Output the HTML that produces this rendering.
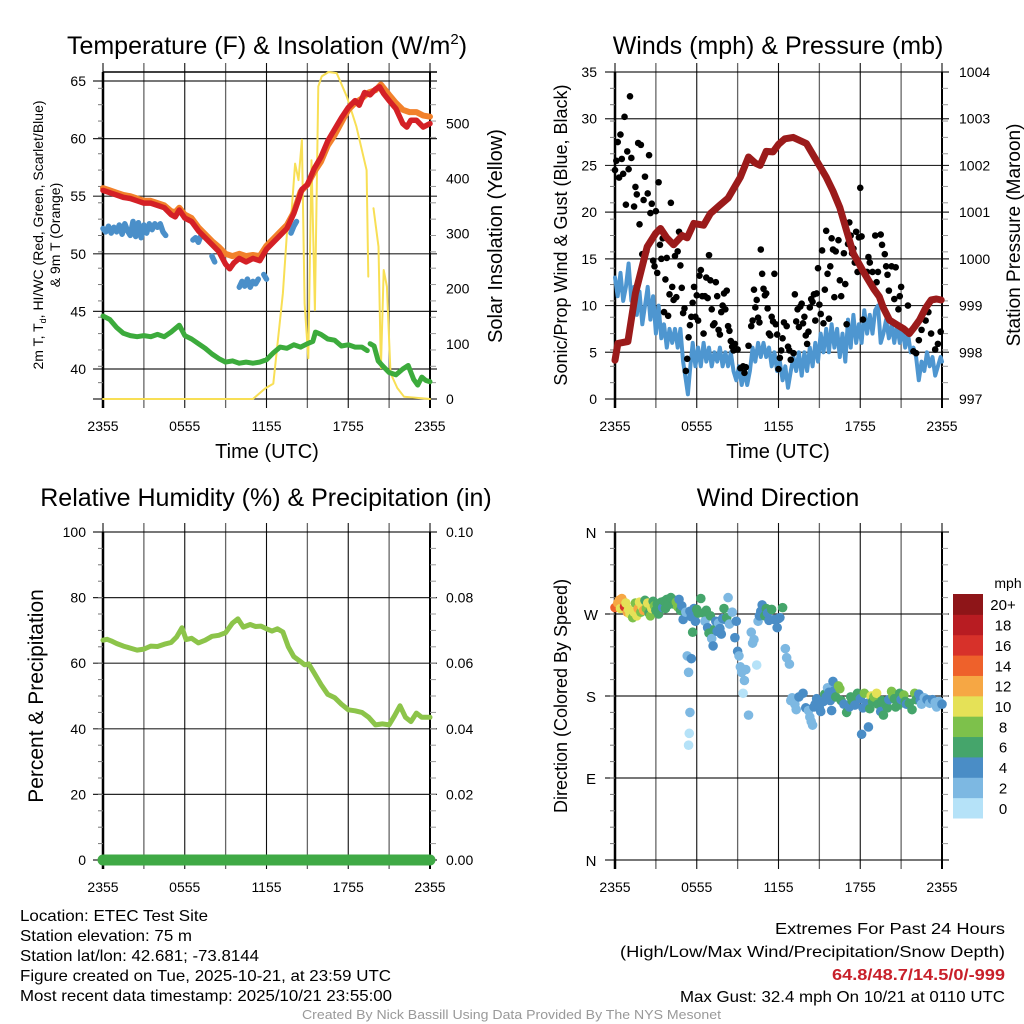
<!DOCTYPE html>
<html><head><meta charset="utf-8"><style>
html,body{margin:0;padding:0;background:#fff;}
svg{display:block;font-family:"Liberation Sans",Arial,sans-serif;}
.nar{font-family:"Liberation Sans Narrow","Liberation Sans",sans-serif;}
</style></head><body>
<svg id="root" width="1024" height="1024" viewBox="0 0 1024 1024">
<rect width="1024" height="1024" fill="#fff"/>
<g id="layer"></g>
<g class="nar" font-size="16" fill="#000">
<text x="20" y="921" textLength="188" lengthAdjust="spacingAndGlyphs">Location: ETEC Test Site</text>
<text x="20" y="941" textLength="172" lengthAdjust="spacingAndGlyphs">Station elevation: 75 m</text>
<text x="20" y="961" textLength="239" lengthAdjust="spacingAndGlyphs">Station lat/lon: 42.681; -73.8144</text>
<text x="20" y="981" textLength="371" lengthAdjust="spacingAndGlyphs">Figure created on Tue, 2025-10-21, at 23:59 UTC</text>
<text x="20" y="1001" textLength="372" lengthAdjust="spacingAndGlyphs">Most recent data timestamp: 2025/10/21 23:55:00</text>
<text x="775" y="934" textLength="230" lengthAdjust="spacingAndGlyphs">Extremes For Past 24 Hours</text>
<text x="620" y="957" textLength="385" lengthAdjust="spacingAndGlyphs">(High/Low/Max Wind/Precipitation/Snow Depth)</text>
<text x="832" y="980" textLength="173" lengthAdjust="spacingAndGlyphs" fill="#c8202a" font-weight="bold">64.8/48.7/14.5/0/-999</text>
<text x="680" y="1002" textLength="325" lengthAdjust="spacingAndGlyphs">Max Gust: 32.4 mph On 10/21 at 0110 UTC</text>
<text x="302" y="1019" textLength="419" lengthAdjust="spacingAndGlyphs" font-size="13" fill="#999">Created By Nick Bassill Using Data Provided By The NYS Mesonet</text>
</g>
</svg>
<script>
// ---------- DATA ----------
const xTickLabels = ["2355","0555","1155","1755","2355"];
const tempTicks = [40,45,50,55,60,65];
const insolTicks = [0,100,200,300,400,500];
const windTicks = [0,5,10,15,20,25,30,35];
const presTicks = [997,998,999,1000,1001,1002,1003,1004];
const rhTicks = [0,20,40,60,80,100];
const precipTicks = ["0.00","0.02","0.04","0.06","0.08","0.10"];
const dirLabels = ["N","E","S","W","N"];
const speedBinLabels = ["0","2","4","6","8","10","12","14","16","18","20+"];
const speedBinColors = ["#b5e2f8","#7db8e2","#4a8dc6","#45a56b","#7dc14b","#e5e157","#f6a744","#ee612b","#d7312a","#b81c22","#8e1518"];

const tempRed = [[0,55.5],[0.5,55.3],[1,55.1],[1.5,54.9],[2,54.8],[2.5,54.6],[3,54.4],[3.5,54.4],[4,54.2],[4.5,54.0],[5,53.4],[5.3,53.2],[5.6,53.8],[6,53.1],[6.5,52.8],[7,52.0],[7.5,51.4],[8,50.8],[8.5,50.2],[9,49.1],[9.3,48.7],[9.6,49.2],[10,49.6],[10.5,49.3],[11,49.6],[11.5,49.4],[12,50.4],[12.5,51],[13,51.6],[13.5,52.2],[14,53.5],[14.3,54.5],[14.6,55.6],[15,56],[15.5,57.4],[16,58.4],[16.5,59.8],[17,60.8],[17.5,61.8],[18,62.7],[18.5,63.3],[18.8,62.9],[19.2,64.0],[19.6,63.8],[20,64.3],[20.3,64.5],[20.6,63.9],[21,63.3],[21.5,62.6],[22,61.3],[22.3,61.0],[22.6,61.6],[23,61.6],[23.5,61.0],[24,61.3]];
const temp9m = [[0,55.7],[0.5,55.5],[1,55.3],[1.5,55.1],[2,55.0],[2.5,54.8],[3,54.6],[3.5,54.6],[4,54.4],[4.5,54.2],[5,53.7],[5.3,53.6],[5.6,54.0],[6,53.4],[6.5,53.1],[7,52.3],[7.5,51.7],[8,51.1],[8.5,50.6],[9,50.0],[9.5,49.8],[10,50.0],[10.5,49.8],[11,49.9],[11.5,49.8],[12,50.7],[12.5,51.3],[13,51.9],[13.5,52.5],[14,53.6],[14.5,55.4],[15,56],[15.5,57.1],[16,58],[16.5,59.4],[17,60.3],[17.5,61.4],[18,62.5],[18.5,63.1],[19,63.5],[19.5,64.0],[20,64.2],[20.4,64.7],[21,63.8],[21.5,63.1],[22,62.5],[22.5,62.3],[23,62.3],[23.5,62],[24,61.9]];
const heatIdx = [[0,52.2],[0.2,51.9],[0.4,52.4],[0.6,51.8],[0.8,52.3],[1,51.9],[1.2,52.5],[1.4,51.7],[1.6,52.6],[1.8,52.0],[2,51.6],[2.2,52.8],[2.4,51.5],[2.6,52.7],[2.8,51.4],[3,52.5],[3.2,51.8],[3.4,52.6],[3.6,52.1],[3.8,52.6],[4,52.3],[4.2,52.6],[4.4,51.9],[4.6,51.6],null,[6.6,51.2],[6.8,51.4],[7,51.0],[7.2,51.6],null,[8,49.8],[8.2,49.3],null,[10,47.1],[10.2,47.6],[10.4,47.2],[10.6,47.8],[10.8,47.1],[11,47.6],[11.2,47.4],[11.4,47.8],null,[11.8,48.2],[12,47.8],null,[13.8,51.8],[14,52.4],[14.2,52.8]];
const dewPt = [[0,44.6],[0.5,44.3],[1,43.6],[1.5,43.1],[2,42.9],[2.5,42.8],[3,42.9],[3.5,42.8],[4,43.0],[4.5,42.8],[5,43.2],[5.6,43.8],[6,42.9],[6.5,42.6],[7,42.2],[7.5,41.8],[8,41.3],[8.5,40.9],[9,40.6],[9.5,40.7],[10,40.5],[10.5,40.6],[11,40.5],[11.5,40.6],[12,40.8],[12.5,41.4],[13,41.9],[13.5,41.8],[14,42.1],[14.5,41.9],[15,42.2],[15.4,42.4],[15.6,43.2],[16,43.0],[16.5,42.6],[17,42.5],[17.5,42.0],[18,42.1],[18.5,41.9],[19,41.9],[19.4,41.6],null,[19.6,42.2],[19.9,42.0],[20.2,40.7],[20.5,40.3],[21,39.7],[21.5,39.5],[22,40.0],[22.4,40.3],[22.8,39.1],[23.1,38.6],[23.4,39.3],[23.7,39.0],[24,38.9]];
const insolation = [[0,0],[11.0,0],[11.9,19],[12.5,28],[13.2,192],[13.5,300],[13.85,343],[14.1,427],[14.35,397],[14.6,470],[14.8,173],[15.07,74],[15.3,433],[15.55,161],[15.8,567],[16.05,585],[16.55,593],[17.15,591],[17.9,548],[18.6,494],[19.35,415],[19.47,222],null,[19.85,346],[20.22,276],[20.4,56],[20.6,234],[20.84,204],[21.1,47],[21.6,20],[22.1,4],[24,0]];

const pressure = [[0,997.83],[0.21,998.19],[0.95,998.23],[1.5,999.26],[2.36,1000.26],[2.97,1000.54],[3.34,1000.65],[3.8,1000.45],[4.3,1000.3],[4.93,1000.5],[5.3,1000.45],[5.78,1000.76],[6.5,1000.72],[7.0,1000.97],[7.7,1001.15],[8.3,1001.3],[9.2,1001.75],[9.8,1002.18],[10.3,1002.05],[10.65,1002.0],[11.1,1002.3],[11.6,1002.29],[12.0,1002.45],[12.47,1002.57],[13.08,1002.6],[14.05,1002.47],[14.8,1002.1],[15.5,1001.75],[16.0,1001.45],[16.5,1001.1],[17.0,1000.6],[17.5,1000.11],[18.3,999.69],[19.0,999.35],[19.4,999.19],[19.7,998.95],[20.15,998.69],[20.75,998.58],[21.2,998.5],[21.6,998.4],[22.0,998.55],[22.35,998.69],[22.8,998.95],[23.2,999.12],[23.6,999.14],[23.94,999.12]];
const windSpd = [[0,13],[0.2,11],[0.4,13.5],[0.6,10.5],[0.8,12],[1.0,14.5],[1.2,10.5],[1.4,12],[1.6,9],[1.8,11.5],[2.0,8],[2.2,10],[2.4,12],[2.6,8.5],[2.8,11],[3.0,7],[3.2,10],[3.4,6.5],[3.6,8],[3.8,5.5],[4.0,7.5],[4.2,6],[4.4,7.5],[4.6,5.5],[4.8,7.5],[5.0,4],[5.2,2],[5.35,0.5],[5.5,3],[5.7,6],[5.9,3.5],[6.1,5.5],[6.3,3.5],[6.5,6],[6.7,4],[6.9,5.5],[7.1,3.5],[7.3,5],[7.5,4],[7.7,5.5],[7.9,3.5],[8.1,5],[8.3,3.5],[8.5,5],[8.7,3],[8.9,2],[9.1,3.5],[9.3,1.5],[9.5,3],[9.7,1.5],[9.9,3],[10.1,5.5],[10.3,4],[10.5,6],[10.7,4.5],[10.9,6],[11.1,4.5],[11.3,5.5],[11.5,3.5],[11.7,5],[11.9,3],[12.1,4],[12.3,2],[12.5,3.5],[12.7,1.2],[12.9,3],[13.1,4.5],[13.3,3],[13.5,5],[13.7,2.5],[13.9,5],[14.1,3],[14.3,5.5],[14.5,3.5],[14.7,6],[14.9,4],[15.1,7],[15.3,5],[15.5,7.5],[15.7,5],[15.9,8],[16.1,5.5],[16.3,7.5],[16.5,4.5],[16.7,7],[16.9,4],[17.1,8.5],[17.3,5.5],[17.5,9],[17.7,6],[17.9,8],[18.1,6],[18.3,9.5],[18.5,7],[18.7,9],[18.9,7],[19.1,9.5],[19.3,10],[19.5,6],[19.7,7],[19.9,8.5],[20.1,6.5],[20.3,8],[20.5,6],[20.7,8],[20.9,6],[21.1,7.5],[21.3,5.5],[21.5,7],[21.7,5],[21.9,5.5],[22.1,4.5],[22.3,2],[22.5,4],[22.7,3],[22.9,5],[23.1,3.5],[23.3,4.5],[23.5,2.5],[23.7,3.5],[23.9,4.5],[24,4]];
const gusts = [[0.0,24.5],[0.1,25.5],[0.2,27.5],[0.3,23.7],[0.4,28.3],[0.5,25.7],[0.6,24.1],[0.7,30.2],[0.8,20.8],[0.9,26.5],[1.0,24.6],[1.1,32.4],[1.2,25.8],[1.4,20.6],[1.5,22.7],[1.6,21.9],[1.7,27.4],[1.8,18.7],[1.9,27.2],[2.0,15.5],[2.1,21.3],[2.2,23.8],[2.3,15.8],[2.4,22],[2.5,26.1],[2.6,19.9],[2.7,20.9],[2.8,14.8],[2.9,14.2],[3.0,20.1],[3.1,13.5],[3.2,23.2],[3.3,16.5],[3.4,15],[3.5,17.2],[3.6,9.3],[3.7,12.8],[3.8,15.1],[3.9,8.9],[4.0,11.2],[4.1,21],[4.2,12],[4.3,10.6],[4.4,15.3],[4.5,10.9],[4.6,15.8],[4.7,17.9],[4.8,14.3],[4.9,11.9],[5.0,9.2],[5.1,9.7],[5.2,3],[5.3,4.3],[5.4,6.6],[5.5,7.9],[5.6,8.8],[5.7,10.3],[5.8,12],[5.9,8.8],[6.0,11.1],[6.1,8.4],[6.2,13.2],[6.3,13.8],[6.4,11],[6.5,7],[6.6,11],[6.7,13],[6.8,10.8],[6.9,15.4],[7.0,12.7],[7.1,9.6],[7.2,7.9],[7.3,8.1],[7.4,12.5],[7.5,11],[7.6,7.4],[7.7,6.9],[7.8,9.3],[7.9,10],[8.0,11.3],[8.1,9.6],[8.2,11.6],[8.3,7.8],[8.4,7.3],[8.5,6.2],[8.6,5.6],[8.7,5.2],[8.8,5.9],[9.0,5.3],[9.2,3.3],[9.4,3.5],[9.5,2.8],[9.6,3.4],[9.8,5.7],[10.0,7.8],[10.1,8.4],[10.2,11.7],[10.3,9.8],[10.4,10.6],[10.5,8.7],[10.6,8.2],[10.7,16],[10.8,13.4],[10.9,11.8],[11.0,11.1],[11.1,11.3],[11.2,9.7],[11.3,7],[11.4,6.8],[11.5,8.8],[11.6,8.3],[11.7,13.4],[11.8,8],[11.9,6.9],[12.0,3.2],[12.1,4.4],[12.2,5.2],[12.3,6.5],[12.4,8.2],[12.6,7.8],[12.7,5.6],[12.8,5.2],[12.9,4.2],[13.1,4.9],[13.2,11.2],[13.3,8.3],[13.4,9.6],[13.5,7.7],[13.6,9.9],[13.7,10.2],[13.8,8.1],[13.9,8.8],[14.0,6.8],[14.1,5.9],[14.2,7.2],[14.3,9.8],[14.4,10.7],[14.5,10.4],[14.6,11.2],[14.7,8.4],[14.8,11.3],[14.9,14],[15.0,10.1],[15.1,9.1],[15.2,15.9],[15.3,8.1],[15.4,11.7],[15.5,18],[15.6,13.4],[15.7,8.6],[15.8,14.2],[15.9,17.2],[16.0,16],[16.1,10.9],[16.2,15.8],[16.4,17],[16.5,12.7],[16.6,11],[16.8,15.6],[16.9,12.3],[17.0,8],[17.1,16.6],[17.2,18.9],[17.3,17.5],[17.4,15.6],[17.5,16.1],[17.6,14.6],[17.7,17.9],[17.8,13.6],[17.9,17.3],[18.0,22.6],[18.1,17.4],[18.2,8.5],[18.5,13.6],[18.6,15.2],[18.7,14.6],[18.9,13.6],[19.1,17.5],[19.2,12.5],[19.3,13.6],[19.5,17.6],[19.6,16.5],[19.8,15.5],[19.9,14.2],[20.0,13.3],[20.1,11.6],[20.3,14.2],[20.5,10.7],[20.6,14.1],[20.8,9.6],[20.9,11],[21.0,12],[21.5,10],[21.9,5.1],[22.1,4.9],[22.3,6.3],[22.5,7.4],[22.8,8.4],[23.0,9.3],[23.2,7],[23.5,5.3],[23.7,5.9],[23.9,7.2]];

const rhData = [[0,67],[0.3,67.3],[0.6,66.8],[1,66],[1.5,65.2],[2,64.6],[2.5,64],[3,64.3],[3.5,65.2],[4,65.1],[4.5,65.8],[5,66.3],[5.4,68],[5.8,70.8],[6.1,67.2],[6.5,67.6],[7,66.2],[7.5,67],[8,68.2],[8.5,68.5],[9,69.3],[9.5,72.2],[9.9,73.5],[10.3,71],[10.8,71.8],[11.2,71.2],[11.6,71.3],[12,70.5],[12.4,69.8],[12.8,70.5],[13.2,69.5],[13.6,65],[14,62],[14.5,60.5],[14.8,59.5],[15.1,59.8],[15.5,57],[16,53.5],[16.5,50.5],[17,49.5],[17.5,47.5],[18,45.8],[18.5,45.5],[19,45],[19.5,43.5],[20,41.2],[20.5,41.5],[21,41.2],[21.4,44],[21.8,47],[22.2,43.5],[22.6,42.2],[23,44.8],[23.4,43.5],[24,43.5]];
const precip = [[0,0],[24,0]];

const windDir = [[0,277,14],[0.2,282,12],[0.3,285,12],[0.4,276,10],[0.5,287,12],[0.6,284,12],[0.7,278,16],[0.8,282,10],[0.9,272,12],[1.0,275,10],[1.1,270,10],[1.3,266,8],[1.4,272,10],[1.5,282,8],[1.6,268,10],[1.7,276,12],[1.8,283,10],[1.9,272,8],[2.0,278,10],[2.1,274,12],[2.2,285,6],[2.3,276,8],[2.4,282,10],[2.5,271,6],[2.6,268,8],[2.7,276,10],[2.8,284,6],[2.9,279,8],[3.0,274,6],[3.1,281,6],[3.2,270,6],[3.4,283,6],[3.5,277,4],[3.6,284,6],[3.7,276,6],[3.8,286,6],[3.9,280,6],[4.1,288,6],[4.3,281,6],[4.4,285,6],[4.5,283,8],[4.6,278,8],[4.7,286,4],[4.8,274,6],[4.9,279,4],[5.0,264,4],[5.2,272,2],[5.3,224,2],[5.4,206,2],[5.5,162,2],[5.45,139,0],[5.4,126,0],[5.6,221,4],[5.5,273,4],[5.6,267,4],[5.7,250,6],[5.8,276,4],[5.9,262,4],[6.0,275,6],[6.1,271,6],[6.3,287,6],[6.5,271,6],[6.6,262,2],[6.7,274,6],[6.8,255,4],[6.9,249,6],[7.0,268,6],[7.1,243,2],[7.2,235,4],[7.3,253,6],[7.4,262,4],[7.5,251,4],[7.6,260,2],[7.7,254,4],[7.8,248,4],[7.9,265,4],[8.0,276,6],[8.1,264,4],[8.2,266,6],[8.3,288,2],[8.4,259,2],[8.6,272,2],[8.8,244,4],[8.9,262,4],[9.0,229,4],[9.1,224,2],[9.2,212,2],[9.3,206,2],[9.4,183,0],[9.5,197,2],[9.6,209,2],[9.8,159,2],[10.0,250,2],[10.1,238,2],[10.2,242,2],[10.4,214,0],[10.5,262,2],[10.6,268,4],[10.7,273,4],[10.8,280,4],[11.0,268,6],[11.1,276,6],[11.2,271,4],[11.3,263,4],[11.5,275,6],[11.7,264,4],[11.9,255,4],[12.0,265,4],[12.1,266,4],[12.3,277,6],[12.5,232,2],[12.6,222,2],[12.8,215,2],[12.9,175,2],[13.0,178,2],[13.2,171,2],[13.3,165,2],[13.5,179,4],[13.8,183,4],[14.0,167,4],[14.2,164,2],[14.3,157,2],[14.4,152,2],[14.5,148,2],[14.6,168,4],[14.7,171,4],[14.8,177,4],[14.9,173,4],[15.0,167,4],[15.1,163,4],[15.3,174,4],[15.4,182,6],[15.5,179,4],[15.6,189,2],[15.7,184,4],[15.8,175,4],[15.9,164,4],[16.0,196,4],[16.1,186,4],[16.2,179,6],[16.4,191,8],[16.5,188,8],[16.6,175,6],[16.8,171,4],[17.0,162,6],[17.2,168,4],[17.3,179,6],[17.4,175,6],[17.6,170,4],[17.8,183,6],[17.9,182,6],[18.0,177,4],[18.1,138,4],[18.2,167,4],[18.3,183,8],[18.5,172,4],[18.6,146,4],[18.7,166,6],[18.8,180,10],[18.9,174,6],[19.0,179,8],[19.2,183,10],[19.3,171,6],[19.5,163,4],[19.6,175,6],[19.7,159,6],[19.9,170,6],[20.0,167,6],[20.1,176,4],[20.3,185,8],[20.4,180,8],[20.5,177,6],[20.6,168,6],[20.8,170,6],[20.9,183,6],[21.0,176,4],[21.2,181,8],[21.3,174,6],[21.4,171,4],[21.6,172,6],[21.8,165,6],[22.0,183,8],[22.1,176,6],[22.3,182,4],[22.4,175,4],[22.5,171,2],[22.7,178,2],[22.9,176,4],[23.1,172,2],[23.3,176,4],[23.5,173,2],[23.6,168,2],[23.8,174,2],[24,171,4]];

// ---------- DRAWING ----------
const NS = "http://www.w3.org/2000/svg";
const layer = document.getElementById('layer');
function mk(tag, attrs, parent){ const e=document.createElementNS(NS,tag); for(const k in attrs) e.setAttribute(k,attrs[k]); (parent||layer).appendChild(e); return e; }
function lin(d0,d1,r0,r1){ return v => r0+(v-d0)*(r1-r0)/(d1-d0); }
function txt(x,y,s,attrs,parent){ const e=mk('text',Object.assign({x:x,y:y},attrs||{}),parent); e.textContent=s; return e; }
function pathFrom(data,xs,ys){ let d='',pen=false; data.forEach(p=>{ if(!p){pen=false;return;} d+=(pen?'L':'M')+xs(p[0]).toFixed(1)+','+ys(p[1]).toFixed(1); pen=true; }); return d; }

function frame(g,L,R,T,B,hLines,name){
  for(let i=0;i<=8;i++){ const x=L+i*(R-L)/8;
    const l=mk('line',{x1:x,x2:x,y1:T-9,y2:B+9,stroke:'#000','stroke-width':(i%2? 1.3:1.1),'stroke-opacity':(i%2?0.6:0.95)},g);
    
    
  }
  hLines.forEach(y=>{ const l=mk('line',{x1:L-10,x2:R+7,y1:y,y2:y,stroke:'#000','stroke-width':1.2,'stroke-opacity':0.85},g);
    
    
  });
  const bl=mk('line',{x1:L,x2:L,y1:T,y2:B+9,stroke:'#000','stroke-width':2.5},g);
  
  
  const br=mk('line',{x1:R,x2:R,y1:T,y2:B+9,stroke:'#000','stroke-width':2},g);
  
  
  for(let k=1;k<20;k++){ const y=T+k*(B-T)/20;
    const m=mk('line',{x1:L-5,x2:L,y1:y,y2:y,stroke:'#777','stroke-width':1},g);
    
    
    const m2=mk('line',{x1:R,x2:R+6,y1:y,y2:y,stroke:'#999','stroke-width':1},g);
    
    
  }
  xTickLabels.forEach((s,i)=>{ const t=txt(L+i*(R-L)/4,B+32,s,{'font-size':14,'text-anchor':'middle'},g);
    
    
  });
}
function group(name){ const g=mk('g',{});   return g; }
function line(g,data,xs,ys,color,w,name){ const p=mk('path',{d:pathFrom(data,xs,ys),fill:'none',stroke:color,'stroke-width':w,'stroke-linejoin':'round','stroke-linecap':'round'},g);
  
   return p; }

// Panel 1 temperature
(function(){
  const L=103,R=430,T=72,B=399, g=group('temperature-panel');
  const xs=lin(0,24,L,R), ys=lin(40,65,369,81), yi=lin(0,500,399,123.3);
  const tb=mk('line',{x1:L,x2:R+7,y1:T,y2:T,stroke:'#000','stroke-width':1.5},g);
   
  frame(g,L,R,T,B,tempTicks.map(ys).concat([B]),'temperature');
  tempTicks.forEach(v=>{ const t=txt(86,ys(v)+5,String(v),{'font-size':14,'text-anchor':'end'},g);   });
  insolTicks.forEach(v=>{ const t=txt(446,yi(v)+5,String(v),{'font-size':14},g);   });
  line(g,insolation,xs,yi,'#f8df55',2,'insolation-line');
  line(g,dewPt,xs,ys,'#3cab3c',5,'dewpoint-line');
  line(g,heatIdx,xs,ys,'#4a8fc9',5.5,'heat-index-line');
  line(g,temp9m,xs,ys,'#f2812b',6,'temp-9m-line');
  line(g,tempRed,xs,ys,'#d42026',5.5,'temp-2m-line');
  const t1=txt(267,54,'Temperature (F) & Insolation (W/m',{'font-size':25,'text-anchor':'middle'},g); const sp=mk('tspan',{dy:-10,'font-size':15},t1); sp.textContent='2'; const sp2=mk('tspan',{dy:10},t1); sp2.textContent=')';
   
  const xt=txt(267,458,'Time (UTC)',{'font-size':20,'text-anchor':'middle'},g);  
  const yl=txt(0,0,'',{'font-size':14,'text-anchor':'middle',transform:'translate(43,235) rotate(-90)'},g);
  const a=mk('tspan',{},yl); a.textContent='2m T, T'; const b=mk('tspan',{'font-size':9,dy:3},yl); b.textContent='d'; const c=mk('tspan',{dy:-3},yl); c.textContent=', HI/WC (Red, Green, Scarlet/Blue)';
   
  const yl2=txt(0,0,'& 9m T (Orange)',{'font-size':14,'text-anchor':'middle',transform:'translate(60,235) rotate(-90)'},g);
   
  const yr=txt(0,0,'Solar Insolation (Yellow)',{'font-size':20,'text-anchor':'middle',transform:'translate(502,236) rotate(-90)'},g);
   
})();

// Panel 2 winds
(function(){
  const L=615,R=942,T=72,B=399, g=group('winds-panel');
  const xs=lin(0,24,L,R), ys=lin(0,35,B,T), yp=lin(997,1004,B,T);
  frame(g,L,R,T,B,windTicks.map(ys),'winds');
  windTicks.forEach(v=>{ const t=txt(597,ys(v)+5,String(v),{'font-size':14,'text-anchor':'end'},g);   });
  presTicks.forEach(v=>{ const t=txt(959,yp(v)+5,String(v),{'font-size':14},g);   });
  line(g,windSpd,xs,ys,'#4e96d0',4,'wind-speed-line');
  gusts.forEach(p=>{ const c=mk('circle',{cx:xs(p[0]),cy:ys(p[1]),r:3.3,fill:'#000'},g);
    
     });
  line(g,pressure,xs,yp,'#9b1b1b',7,'pressure-line');
  const t1=txt(778,54,'Winds (mph) & Pressure (mb)',{'font-size':25,'text-anchor':'middle'},g);  
  const xt=txt(778,458,'Time (UTC)',{'font-size':20,'text-anchor':'middle'},g);  
  const yl=txt(0,0,'Sonic/Prop Wind & Gust (Blue, Black)',{'font-size':18,'text-anchor':'middle',transform:'translate(567,235) rotate(-90)'},g);  
  const yr=txt(0,0,'Station Pressure (Maroon)',{'font-size':19,'text-anchor':'middle',transform:'translate(1020,235) rotate(-90)'},g);  
})();

// Panel 3 RH
(function(){
  const L=103,R=430,T=532,B=860, g=group('humidity-panel');
  const xs=lin(0,24,L,R), ys=lin(0,100,B,T);
  frame(g,L,R,T,B,rhTicks.map(ys),'humidity');
  rhTicks.forEach(v=>{ const t=txt(86,ys(v)+5,String(v),{'font-size':14,'text-anchor':'end'},g);   });
  precipTicks.forEach((s,i)=>{ const t=txt(446,ys(i*20)+5,s,{'font-size':14},g);   });
  line(g,rhData,xs,ys,'#8cc44a',5,'rh-line');
  line(g,precip,xs,v=>ys(v*1000),'#3fa945',11,'precip-line');
  const t1=txt(266,506,'Relative Humidity (%) & Precipitation (in)',{'font-size':25,'text-anchor':'middle'},g);  
  const yl=txt(0,0,'Percent & Precipitation',{'font-size':21,'text-anchor':'middle',transform:'translate(43,696) rotate(-90)'},g);  
})();

// Panel 4 direction
(function(){
  const L=615,R=942,T=532,B=860, g=group('direction-panel');
  const xs=lin(0,24,L,R), ys=lin(0,360,B,T);
  frame(g,L,R,T,B,[0,90,180,270,360].map(ys),'direction');
  dirLabels.forEach((s,i)=>{ const t=txt(591,ys(i*90)+6,s,{'font-size':15,'text-anchor':'middle'},g);   });
  windDir.forEach(p=>{ const bin=Math.min(10,Math.floor(p[2]/2)); const c=mk('circle',{cx:xs(p[0]),cy:ys(p[1]),r:4.8,fill:speedBinColors[bin]},g);
    
     });
  const t1=txt(778,506,'Wind Direction',{'font-size':25,'text-anchor':'middle'},g);  
  const yl=txt(0,0,'Direction (Colored By Speed)',{'font-size':18,'text-anchor':'middle',transform:'translate(567,696) rotate(-90)'},g);  
  const cb=group('speed-colorbar');
  const n=speedBinColors.length, top=594, bot=818, h=(bot-top)/n;
  speedBinColors.forEach((col,i)=>{ const y=bot-(i+1)*h; const r=mk('rect',{x:953,y:y,width:30,height:h+0.5,fill:col},cb);
    
    
    const t=txt(1003,y+h/2+6,speedBinLabels[i],{'font-size':15,'text-anchor':'middle'},cb);
    
     });
  const u=txt(1008,588,'mph',{'font-size':14,'text-anchor':'middle'},cb);  
})();
</script>
</body></html>
